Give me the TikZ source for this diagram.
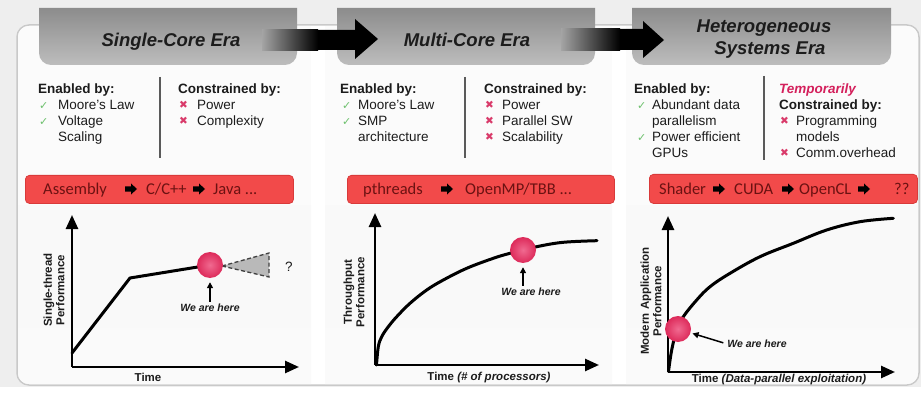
\documentclass[tikz,border=0pt]{standalone}
\usepackage{fontspec}
\setmainfont{Liberation Sans}
\newfontfamily\barfont{Carlito}
\newfontfamily\symfont{DejaVu Sans}
\usetikzlibrary{arrows.meta}
\definecolor{bgg}{HTML}{EEEEEE}
\definecolor{framec}{HTML}{C9C9C9}
\definecolor{tabhl}{HTML}{8C8C8C}
\definecolor{tabtop}{HTML}{A4A4A4}
\definecolor{tabbot}{HTML}{BDBDBD}
\definecolor{tabmid}{HTML}{A4A4A4}
\definecolor{barred}{HTML}{F24A4A}
\definecolor{barline}{HTML}{D93A3A}
\definecolor{bartext}{HTML}{6B1212}
\definecolor{chk}{HTML}{6DC06D}
\definecolor{crs}{HTML}{D93A6A}
\definecolor{tempc}{HTML}{D4205C}
\definecolor{dotin}{HTML}{F06A90}
\definecolor{dotout}{HTML}{DD2A5A}
\definecolor{divc}{HTML}{5A5A5A}
\definecolor{textc}{HTML}{1C1C1C}
\tikzset{
 bodytxt/.style={anchor=base west, inner sep=0, text=textc, font=\fontsize{13.5}{16}\selectfont},
 boldtxt/.style={anchor=base west, inner sep=0, text=textc, font=\fontsize{13.5}{16}\selectfont\bfseries},
 chkmark/.style={anchor=base west, inner sep=0, text=chk, font=\symfont\fontsize{11}{12}\selectfont},
 crsmark/.style={anchor=base west, inner sep=0, text=crs, font=\symfont\fontsize{10.5}{12}\selectfont},
 hdrtxt/.style={anchor=base, inner sep=0, text=textc, font=\fontsize{18.5}{22}\selectfont\bfseries\itshape},
 bartxt/.style={anchor=base west, inner sep=0, text=bartext, font=\barfont\fontsize{16.5}{20}\selectfont},
 redbar/.style={fill=barred, draw=barline, line width=0.8, rounded corners=4, anchor=north west, inner sep=0},
 divline/.style={draw=divc, line width=1.6},
 axisline/.style={line width=2.6, -{Triangle[length=14pt,width=12pt]}},
 curveline/.style={line width=3, line cap=round, line join=round},
 axlbl/.style={font=\fontsize{11.5}{12.5}\selectfont\bfseries, text=textc, align=center, inner sep=0, rotate=90},
 timelbl/.style={font=\fontsize{11.5}{12.5}\selectfont\bfseries, text=textc, inner sep=0},
 herelbl/.style={font=\fontsize{10.5}{12}\selectfont\bfseries\itshape, text=textc, inner sep=0},
 herearr/.style={line width=1.5, -{Triangle[length=6pt,width=6pt]}},
 reddot/.style={circle, minimum size=26pt, inner sep=0, inner color=dotin, outer color=dotout},
 tabshade/.style={top color=tabhl, middle color=tabtop, bottom color=tabbot},
 barrow/.pic={\fill[black] (0,-2.6) -- (6,-2.6) -- (6,-5.5) -- (12,0) -- (6,5.5) -- (6,2.6) -- (0,2.6) -- cycle;},
}
\begin{document}
\begin{tikzpicture}[x=1pt,y=-1pt]
\useasboundingbox (0,0) rectangle (924,393);
\fill[white] (0,0) rectangle (924,393);
\fill[bgg] (0,0) rectangle (921,387);
% frame
\draw[draw=framec, line width=1.5, fill=white, rounded corners=12] (17,25) rectangle (919,385);
\begin{scope}
\clip[rounded corners=11] (18,26) rectangle (918,384);
\fill[gray!3] (18,26) rectangle (311,205);
\fill[gray!3] (325,26) rectangle (612,205);
\fill[gray!3] (626,26) rectangle (918,205);
\shade[top color=gray!5, middle color=gray!15, bottom color=gray!4] (18,205) rectangle (311,384);
\shade[top color=gray!5, middle color=gray!15, bottom color=gray!4] (325,205) rectangle (612,384);
\shade[top color=gray!5, middle color=gray!15, bottom color=gray!4] (626,205) rectangle (918,384);
\end{scope}
% header tabs
\shade[tabshade] (39,8) -- (39,53) arc[start angle=180, end angle=90, radius=12] -- (285,65) arc[start angle=90, end angle=0, radius=12] -- (297,8) -- cycle;
\shade[tabshade] (337,8) -- (337,53) arc[start angle=180, end angle=90, radius=12] -- (583,65) arc[start angle=90, end angle=0, radius=12] -- (595,8) -- cycle;
\shade[tabshade] (632,8) -- (632,53) arc[start angle=180, end angle=90, radius=12] -- (879,65) arc[start angle=90, end angle=0, radius=12] -- (891,8) -- cycle;
% era arrows
\fill[black] (263,30) -- (355,30) -- (355,19) -- (378,39) -- (355,59) -- (355,50) -- (263,50) -- cycle;
\shade[left color=tabmid, right color=black] (262,29.5) rectangle (318,50.5);
\fill[black] (562,29) -- (643,29) -- (643,21) -- (664,40) -- (643,58) -- (643,50) -- (562,50) -- cycle;
\shade[left color=tabmid, right color=black] (561,28.5) rectangle (620,50.5);
% header texts
\node[hdrtxt] (h1) at (171,47) {Single-Core Era};
\node[hdrtxt] (h2) at (467,47) {Multi-Core Era};
\node[hdrtxt] (h3a) at (764,33) {Heterogeneous};
\node[hdrtxt] (h3b) at (770,55) {Systems Era};
% panel 1 texts
\node[boldtxt] (e1) at (38,94) {Enabled by:};
\node[chkmark] (e1c1) at (39,110) {✓}; \node[bodytxt] (e1t1) at (58,110) {Moore's Law};
\node[chkmark] (e1c2) at (39,126) {✓}; \node[bodytxt] (e1t2) at (58,126) {Voltage};
\node[bodytxt] (e1t3) at (58,142) {Scaling};
\draw[divline] (160,77) -- (160,158);
\node[boldtxt] (k1) at (178,94) {Constrained by:};
\node[crsmark] (k1x1) at (179,109) {✖}; \node[bodytxt] (k1t1) at (197,110) {Power};
\node[crsmark] (k1x2) at (179,125) {✖}; \node[bodytxt] (k1t2) at (197,126) {Complexity};
% panel 2 texts
\node[boldtxt] (e2) at (340,94) {Enabled by:};
\node[chkmark] (e2c1) at (342,110) {✓}; \node[bodytxt] (e2t1) at (358,110) {Moore's Law};
\node[chkmark] (e2c2) at (342,126) {✓}; \node[bodytxt] (e2t2) at (358,126) {SMP};
\node[bodytxt] (e2t3) at (358,142) {architecture};
\draw[divline] (465,77) -- (465,158);
\node[boldtxt] (k2) at (484,94) {Constrained by:};
\node[crsmark] (k2x1) at (485,109) {✖}; \node[bodytxt] (k2t1) at (502,110) {Power};
\node[crsmark] (k2x2) at (485,125) {✖}; \node[bodytxt] (k2t2) at (502,126) {Parallel SW};
\node[crsmark] (k2x3) at (485,141) {✖}; \node[bodytxt] (k2t3) at (502,142) {Scalability};
% panel 3 texts
\node[boldtxt] (e3) at (634,94) {Enabled by:};
\node[chkmark] (e3c1) at (637,110) {✓}; \node[bodytxt] (e3t1) at (652,110) {Abundant data};
\node[bodytxt] (e3t2) at (652,126) {parallelism};
\node[chkmark] (e3c2) at (637,142) {✓}; \node[bodytxt] (e3t3) at (652,142) {Power efficient};
\node[bodytxt] (e3t4) at (652,158) {GPUs};
\draw[divline] (764,76) -- (764,160);
\node[boldtxt, text=tempc, font=\fontsize{13.5}{16}\selectfont\bfseries\itshape] (k3a) at (779,94) {Temporarily};
\node[boldtxt] (k3) at (779,110) {Constrained by:};
\node[crsmark] (k3x1) at (780,125) {✖}; \node[bodytxt] (k3t1) at (796,126) {Programming};
\node[bodytxt] (k3t2) at (796,142) {models};
\node[crsmark] (k3x2) at (780,157) {✖}; \node[bodytxt] (k3t3) at (796,158) {Comm.overhead};
% red bars
\node[redbar, minimum width=268pt, minimum height=28pt] (bar1) at (25,175) {};
\node[redbar, minimum width=267pt, minimum height=28pt] (bar2) at (347,175) {};
\node[redbar, minimum width=268pt, minimum height=29pt] (bar3) at (649,174) {};
\node[bartxt] (b1a) at (43,194) {Assembly};
\pic at (125,189) {barrow};
\node[bartxt] (b1b) at (146,194) {C/C++};
\pic at (193,189) {barrow};
\node[bartxt] (b1c) at (213,194) {Java ...};
\node[bartxt] (b2a) at (363,194) {pthreads};
\pic at (441,189) {barrow};
\node[bartxt] (b2b) at (465,194) {OpenMP/TBB ...};
\node[bartxt] (b3a) at (659,194) {Shader};
\pic at (713,189) {barrow};
\node[bartxt] (b3b) at (734,194) {CUDA};
\pic at (782,189) {barrow};
\node[bartxt] (b3c) at (799,194) {OpenCL};
\pic at (858,189) {barrow};
\node[bartxt] (b3d) at (894,194) {??};
% ---- plot 1
\coordinate (o1) at (72,367);
\coordinate (yt1) at (72,215);
\coordinate (xt1) at (299,367);
\draw[axisline] (o1) -- (yt1);
\draw[axisline] (o1) -- (xt1);
\coordinate (p1a) at (72,353);
\coordinate (p1b) at (130,278);
\coordinate (d1) at (210,265);
\draw[curveline] (p1a) -- (p1b) -- (d1);
\coordinate (t1a) at (222,266);
\coordinate (t1b) at (269,253);
\coordinate (t1c) at (269,277);
\draw[fill=gray!55, draw=black!75, line width=1.3, dash pattern=on 4pt off 2.5pt] (t1a) -- (t1b) -- (t1c) -- cycle;
\node[reddot] (dot1) at (d1) {};
\node[font=\fontsize{13.5}{16}\selectfont, text=textc, inner sep=0] (q1) at (289,267) {?};
\node[herelbl] (w1) at (210,308) {We are here};
\draw[herearr, shorten >=4pt, shorten <=2pt] (w1.north) -- (dot1.south);
\node[axlbl] (yl1) at (54,290) {Single-thread\\Performance};
\node[timelbl] (xl1) at (148,377) {Time};
% ---- plot 2
\coordinate (o2) at (375,365);
\coordinate (yt2) at (375,213);
\coordinate (xt2) at (599,365);
\draw[axisline] (o2) -- (yt2);
\draw[axisline] (o2) -- (xt2);
\draw[curveline] plot[smooth, tension=0.6] coordinates {(376.5,365) (378.3,346.7) (381.7,336.7) (388.3,326.7) (396.7,316.7) (410,303.3) (426.7,290) (443.3,280) (466.7,268.3) (493.3,258.3) (510,253.3) (536.7,246.7) (563.3,242.3) (597,240.7)};
\node[reddot] (dot2) at (523,250) {};
\node[herelbl] (w2) at (531,292) {We are here};
\draw[herearr, shorten >=4pt, shorten <=2pt] (w2.north -| dot2.south) -- (dot2.south);
\node[axlbl] (yl2) at (354,292) {Throughput\\Performance};
\node[timelbl] (xl2) at (489,378) {Time \textit{(\# of processors)}};
% ---- plot 3
\coordinate (o3) at (668,372);
\coordinate (yt3) at (668,216);
\coordinate (xt3) at (895,372);
\draw[axisline] (o3) -- (yt3);
\draw[axisline] (o3) -- (xt3);
\draw[curveline] plot[smooth, tension=0.6] coordinates {(668.5,371.5) (671.7,350) (676.7,330) (683.3,316.7) (696.7,300) (710,286.7) (730,273.3) (760,256.7) (793.3,243.3) (826.7,230) (860,221.7) (893.3,218.3)};
\node[reddot] (dot3) at (678,329) {};
\node[herelbl] (w3) at (757,344) {We are here};
\draw[herearr, shorten >=2pt, shorten <=4pt] (w3.west) -- (dot3);
\node[axlbl] (yl3) at (651,301) {Modern Application\\Performance};
\node[timelbl] (xl3) at (779,380) {Time \textit{(Data-parallel exploitation)}};
\end{tikzpicture}
\end{document}
